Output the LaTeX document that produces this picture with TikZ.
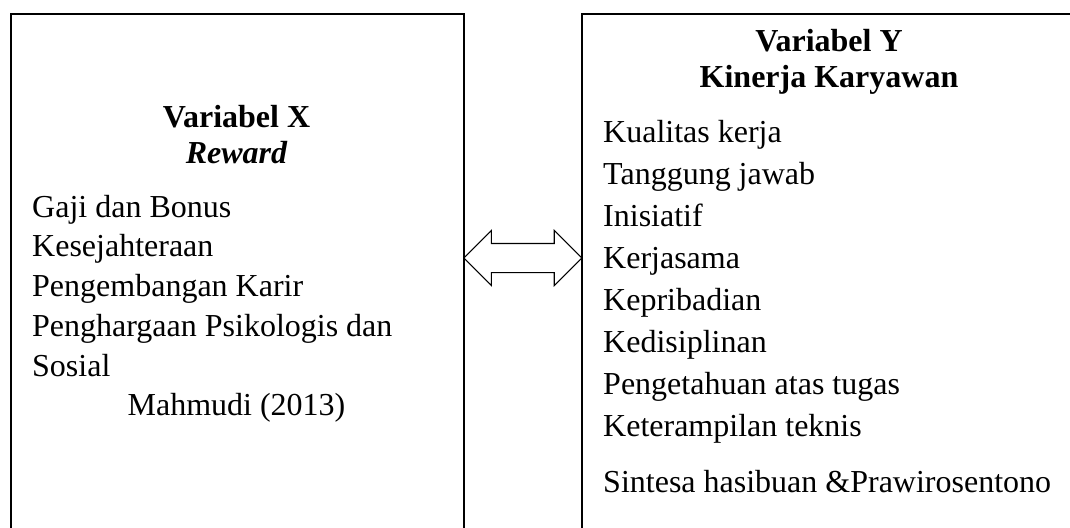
\documentclass[tikz,border=0pt]{standalone}
\usepackage{fontspec}
\setmainfont{Liberation Serif}
\usepackage{tikz}
\usetikzlibrary{positioning,calc,shapes.arrows}

\begin{document}
\begin{tikzpicture}[
  x=1pt,y=-1pt,
  varbox/.style={draw=black,line width=1.6pt,rectangle,anchor=north west,inner sep=0pt,minimum height=560pt},
  head/.style={anchor=base,inner sep=0pt,font=\fontsize{32}{38}\selectfont\bfseries},
  item/.style={anchor=base west,inner sep=0pt,font=\fontsize{32}{38}\selectfont},
  linkarrow/.style={double arrow,draw=black,line width=1.1pt,fill=white,inner xsep=0pt,inner ysep=14pt,
    minimum height=118pt,double arrow head extend=13pt,double arrow head indent=0pt}
]
\useasboundingbox (0,0) rectangle (1070,527);
% boxes (they run past the lower edge)
\node[varbox,minimum width=453pt] (xbox) at (10,13) {};
\node[varbox,minimum width=496pt] (ybox) at (581,13) {};
% variabel X
\node[head] (xtitle) at (236.5,127) {Variabel X};
\node[head,font=\fontsize{32}{38}\selectfont\bfseries\itshape] (xname) at (236.5,163) {Reward};
\foreach \t [count=\i] in {Gaji dan Bonus,Kesejahteraan,Pengembangan Karir,Penghargaan Psikologis dan,Sosial}
  \node[item] (x\i) at (32,{217+39.75*(\i-1)}) {\t};
\node[head,font=\fontsize{32}{38}\selectfont] (xsrc) at (236.5,415) {Mahmudi (2013)};
% variabel Y
\node[head] (ytitle) at (829,52) {Variabel Y};
\node[head] (yname) at (829,88) {Kinerja Karyawan};
\foreach \t [count=\i] in {Kualitas kerja,Tanggung jawab,Inisiatif,Kerjasama,Kepribadian,Kedisiplinan,Pengetahuan atas tugas,Keterampilan teknis}
  \node[item] (y\i) at (603,{142+42.14*(\i-1)}) {\t};
\node[item] (ysrc) at (603,492) {Sintesa hasibuan \&Prawirosentono};
% hubungan
\node[linkarrow] (link) at ($(xbox.east |- 0,258)!0.5!(ybox.west |- 0,258)$) {};
\end{tikzpicture}
\end{document}
